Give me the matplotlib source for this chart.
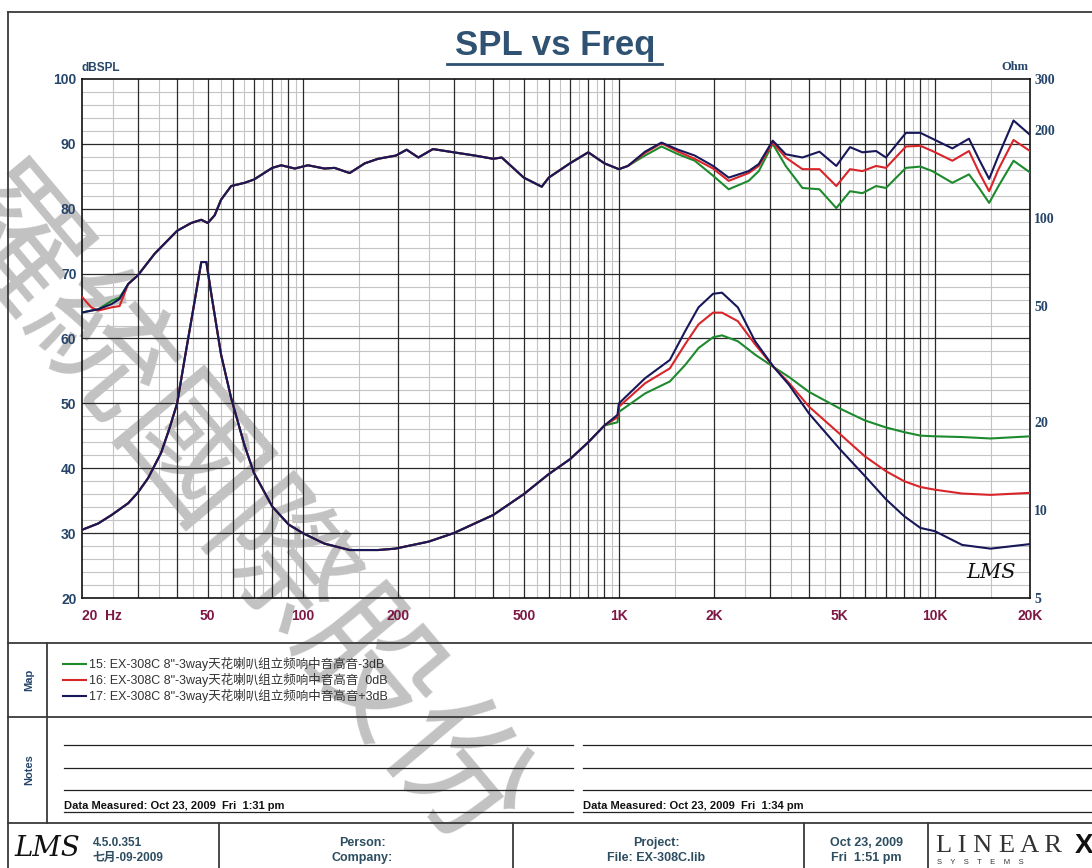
import numpy as np
import matplotlib.pyplot as plt
from matplotlib.lines import Line2D
from matplotlib.ticker import NullLocator

# SPL curves (dB)
spl_freq = [20, 21.4, 22.5, 24.8, 26.3, 28, 30, 34, 40, 44.3,
            47.7, 50, 52.6, 55.1, 59.3, 65.4, 70, 80, 85.4, 94.3,
            103.8, 117, 126, 140.6, 157, 173, 197, 213, 232, 258,
            300, 350, 400, 426, 500, 570, 600, 700, 800, 900,
            1000, 1068, 1210, 1364, 1540, 1738, 1986, 2226, 2574, 2772,
            3068, 3372, 3810, 4312, 4876, 5388, 5896, 6516, 7000, 8100,
            9000, 9820, 11360, 12820, 13800, 14850, 15900, 17740, 20000]
spl_navy = [64.0, 64.3, 64.5, 65.3, 66.1, 68.4, 69.7, 73.1, 76.6, 77.8,
            78.3, 77.8, 79.0, 81.4, 83.5, 84.0, 84.5, 86.3, 86.7, 86.2,
            86.7, 86.2, 86.3, 85.5, 87.0, 87.7, 88.2, 89.1, 87.9, 89.2,
            88.7, 88.2, 87.7, 87.9, 84.8, 83.4, 84.8, 87.0, 88.7, 87.0,
            86.1, 86.6, 88.8, 90.2, 89.1, 88.2, 86.6, 84.8, 85.8, 86.9,
            90.5, 88.4, 87.9, 88.8, 86.6, 89.5, 88.7, 88.9, 87.9, 91.7,
            91.7, 90.8, 89.3, 90.8, 87.6, 84.6, 88.2, 93.6, 91.4]
spl_red = [66.4, 64.8, 64.3, 64.8, 65.0, 68.4, 69.7, 73.1, 76.6, 77.8,
           78.3, 77.8, 79.0, 81.4, 83.5, 84.0, 84.5, 86.3, 86.7, 86.2,
           86.7, 86.2, 86.3, 85.5, 87.0, 87.7, 88.2, 89.1, 87.9, 89.2,
           88.7, 88.2, 87.7, 87.9, 84.8, 83.4, 84.8, 87.0, 88.7, 87.0,
           86.1, 86.6, 88.6, 90.1, 88.8, 87.7, 86.2, 84.3, 85.5, 86.6,
           90.2, 87.9, 86.1, 86.1, 83.5, 86.1, 85.8, 86.6, 86.3, 89.6,
           89.7, 88.9, 87.4, 88.9, 85.6, 82.7, 86.1, 90.6, 88.9]
spl_green = [64.0, 64.3, 64.5, 65.8, 66.3, 68.4, 69.7, 73.1, 76.6, 77.8,
             78.3, 77.8, 79.0, 81.4, 83.5, 84.0, 84.5, 86.3, 86.7, 86.2,
             86.7, 86.2, 86.3, 85.5, 87.0, 87.7, 88.2, 89.1, 87.9, 89.2,
             88.7, 88.2, 87.7, 87.9, 84.8, 83.4, 84.8, 87.0, 88.7, 87.0,
             86.1, 86.6, 88.2, 89.6, 88.4, 87.4, 85.1, 83.0, 84.3, 85.8,
             90.0, 86.6, 83.2, 83.0, 80.1, 82.7, 82.4, 83.5, 83.2, 86.3,
             86.5, 85.8, 84.0, 85.3, 83.2, 80.9, 83.5, 87.4, 85.6]

# impedance curves (Ohm), identical below 1K
imp_freq = [20, 22.5, 24.8, 28, 30, 32.4, 35.6, 37.8, 40, 42.3,
            44.9, 47.7, 49.5, 51.3, 55.1, 59.3, 65.4, 70, 80, 90.2,
            100, 117, 140.6, 173, 196, 250, 300, 400, 500, 600,
            700, 800, 900,
            990, 1000, 1210, 1450, 1620, 1786, 1986, 2120, 2380, 2698,
            3092, 3452, 4000, 5000, 6000, 7000, 8000, 9000, 10000, 12200,
            15000, 20000]
imp_low = [8.56, 9.00, 9.62, 10.56, 11.46, 12.89, 15.73, 19.01, 23.2, 33.2,
           48.2, 70.8, 70.8, 55.1, 34.1, 24.2, 16.64, 13.42, 10.29, 8.92,
           8.34, 7.68, 7.30, 7.30, 7.38, 7.80, 8.34, 9.62, 11.34, 13.29,
           14.94, 17.08, 19.5]
imp_navy_hi = [21.2, 23.2, 28.3, 32.7, 41.0, 49.5, 55.1, 55.6, 49.5, 37.9,
               30.9, 26.9, 21.4, 16.2, 13.1, 10.9, 9.53, 8.69, 8.47, 7.60,
               7.38, 7.65]
imp_red_hi = [20.8, 22.6, 27.2, 30.6, 37.0, 43.3, 47.5, 47.5, 44.4, 37.0,
              30.9, 27.3, 22.6, 18.25, 15.3, 13.6, 12.56, 12.0, 11.75, 11.4,
              11.28, 11.46]
imp_green_hi = [20.0, 21.7, 25.1, 27.6, 31.4, 35.9, 39.1, 39.7, 37.9, 34.1,
                30.9, 28.6, 25.4, 22.3, 20.3, 19.2, 18.5, 18.0, 17.9, 17.8,
                17.6, 17.9]

labels = ['15: EX-308C 8"-3way天花喇叭组立频响中音高音-3dB',
          '16: EX-308C 8"-3way天花喇叭组立频响中音高音  0dB',
          '17: EX-308C 8"-3way天花喇叭组立频响中音高音+3dB']
colors = ['#1e8a2e', '#d8252a', '#17175a']

x_ticks = [20, 50, 100, 200, 500, 1000, 2000, 5000, 10000, 20000]
x_ticklabels = ['20  Hz', '50', '100', '200', '500', '1K', '2K', '5K', '10K', '20K']
db_ticks = [20, 30, 40, 50, 60, 70, 80, 90, 100]
ohm_ticks = [5, 10, 20, 50, 100, 200, 300]

W, H = 1092, 868
SANS = ['Liberation Sans', 'DejaVu Sans']
CJK = ['Liberation Sans', 'Noto Sans CJK SC', 'DejaVu Sans']
BLUE = '#26456a'


def P(x, y):
    return x / W, 1 - y / H


fig = plt.figure(figsize=(W / 100, H / 100), dpi=100)
fig.patch.set_facecolor('white')

# plot area
x0, x1, y0, y1 = 82, 1030, 79, 598
ax = fig.add_axes([x0 / W, 1 - y1 / H, (x1 - x0) / W, (y1 - y0) / H])
ax.patch.set_alpha(0)
ax.set_xscale('log')
ax.set_xlim(20, 20000)
ax.set_ylim(20, 100)

for dec in [10, 100, 1000, 10000]:
    for m in range(1, 10):
        f = m * dec
        if 20 < f < 20000:
            ax.axvline(f, color='#2a2a2a', lw=0.9, zorder=1)
        fm = (m + 0.5) * dec
        if 20 < fm < 20000:
            ax.axvline(fm, color='#c4c4c4', lw=0.8, zorder=0)
for v in range(22, 100, 2):
    if v % 10 == 0:
        ax.axhline(v, color='#2a2a2a', lw=0.9, zorder=1)
    else:
        ax.axhline(v, color='#c4c4c4', lw=0.8, zorder=0)

handles = []
for vals, c in zip([spl_green, spl_red, spl_navy], colors):
    h, = ax.plot(spl_freq, vals, color=c, lw=1.5, zorder=3)
    handles.append(h)

ax.set_xticks(x_ticks, x_ticklabels)
ax.xaxis.set_minor_locator(NullLocator())
ax.set_yticks(db_ticks)
ax.tick_params(axis='both', length=0)
ax.tick_params(axis='x', pad=8, labelcolor='#7d1744')
ax.tick_params(axis='y', pad=4, labelcolor=BLUE)
for t in ax.get_xticklabels():
    t.set_fontfamily(SANS)
    t.set_fontweight('bold')
    t.set_fontsize(10)
ax.get_xticklabels()[0].set_horizontalalignment('left')
for t in ax.get_yticklabels():
    t.set_fontfamily(SANS)
    t.set_fontweight('bold')
    t.set_fontsize(10)
for s in ax.spines.values():
    s.set_color('#111111')
    s.set_linewidth(1.2)

ax2 = ax.twinx()
ax2.patch.set_alpha(0)
ax2.set_yscale('log')
ax2.set_ylim(5, 300)
for hi, c in zip([imp_green_hi, imp_red_hi, imp_navy_hi], colors):
    ax2.plot(imp_freq, imp_low + hi, color=c, lw=1.5, zorder=3)
ax2.set_yticks(ohm_ticks, [str(v) for v in ohm_ticks])
ax2.yaxis.set_minor_locator(NullLocator())
ax2.tick_params(axis='y', length=0, pad=3, labelcolor=BLUE)
for t in ax2.get_yticklabels():
    t.set_fontfamily(['Liberation Serif', 'DejaVu Serif'])
    t.set_fontweight('bold')
    t.set_fontsize(10)
for s in ax2.spines.values():
    s.set_visible(False)

ax2.text(0.985, 0.03, 'LMS', transform=ax2.transAxes, ha='right', va='bottom',
         fontsize=15, style='italic', family=['DejaVu Serif'], color='#111111')

# titles and axis names
fig.text(*P(555, 45), 'SPL vs Freq', ha='center', va='center', fontsize=25,
         fontweight='bold', family=SANS, color='#2f5272')
fig.add_artist(Line2D([447 / W, 662 / W], [1 - 64 / H, 1 - 64 / H], color='#2f5272', lw=2))
fig.text(*P(82, 68), 'dBSPL', ha='left', va='center', fontsize=8.5,
         fontweight='bold', family=SANS, color=BLUE)
fig.text(*P(1028, 67), 'Ohm', ha='right', va='center', fontsize=9,
         fontweight='bold', family=['Liberation Serif', 'DejaVu Serif'], color=BLUE)


# page frame
def hline(y, xa, xb, lw=1.3, c='#3a3a3a'):
    fig.add_artist(Line2D([xa / W, xb / W], [1 - y / H, 1 - y / H], color=c, lw=lw))


def vline(x, ya, yb, lw=1.3, c='#3a3a3a'):
    fig.add_artist(Line2D([x / W, x / W], [1 - ya / H, 1 - yb / H], color=c, lw=lw))


hline(12, 8, W)
vline(8, 12, H)
hline(643, 8, W)
hline(717, 8, W)
hline(823, 8, W)
vline(47, 643, 823)
for xd in [219, 513, 804, 928]:
    vline(xd, 823, H)

# map
fig.text(*P(29, 680), 'Map', rotation=90, ha='center', va='center', fontsize=8,
         fontweight='bold', family=SANS, color=BLUE)
fig.legend(handles, labels, loc='upper left', bbox_to_anchor=P(58, 652),
           frameon=False, handlelength=1.8, handletextpad=0.3, labelspacing=0.15,
           borderaxespad=0, prop={'family': CJK, 'size': 9}, labelcolor='#333333')

# notes
fig.text(*P(29, 770), 'Notes', rotation=90, ha='center', va='center', fontsize=8,
         fontweight='bold', family=SANS, color=BLUE)
for yl in [745, 768, 790, 812]:
    hline(yl, 64, 573, lw=0.9, c='#222222')
    hline(yl, 583, W, lw=0.9, c='#222222')
fig.text(*P(64, 806), 'Data Measured: Oct 23, 2009  Fri  1:31 pm', ha='left', va='center',
         fontsize=8, fontweight='bold', family=SANS, color='#111111')
fig.text(*P(583, 806), 'Data Measured: Oct 23, 2009  Fri  1:34 pm', ha='left', va='center',
         fontsize=8, fontweight='bold', family=SANS, color='#111111')

# footer
FOOT = '#2d4d60'
fig.text(*P(14, 848), 'LMS', ha='left', va='center', fontsize=20, style='italic',
         family=['DejaVu Serif'], color='#111111')
fig.text(*P(93, 843), '4.5.0.351', ha='left', va='center', fontsize=8.5,
         fontweight='bold', family=CJK, color=FOOT)
fig.text(*P(93, 858), '七月-09-2009', ha='left', va='center', fontsize=8.5,
         fontweight='bold', family=CJK, color=FOOT)
fig.text(*P(362, 843), 'Person:', ha='center', va='center', fontsize=9,
         fontweight='bold', family=SANS, color=FOOT)
fig.text(*P(362, 858), 'Company:', ha='center', va='center', fontsize=9,
         fontweight='bold', family=SANS, color=FOOT)
fig.text(*P(656, 843), 'Project:', ha='center', va='center', fontsize=9,
         fontweight='bold', family=SANS, color=FOOT)
fig.text(*P(656, 858), 'File: EX-308C.lib', ha='center', va='center', fontsize=9,
         fontweight='bold', family=SANS, color=FOOT)
fig.text(*P(866, 843), 'Oct 23, 2009', ha='center', va='center', fontsize=9,
         fontweight='bold', family=SANS, color=FOOT)
fig.text(*P(866, 858), 'Fri  1:51 pm', ha='center', va='center', fontsize=9,
         fontweight='bold', family=SANS, color=FOOT)
fig.text(*P(936, 846), 'L I N E A R', ha='left', va='center', fontsize=19,
         family=['Liberation Serif', 'DejaVu Serif'], color='#333333')
fig.text(*P(1075, 846), 'X', ha='left', va='center', fontsize=20, fontweight='bold',
         family=SANS, color='#111111')
fig.text(*P(937, 863), 'S    Y    S    T    E    M    S', ha='left', va='center',
         fontsize=5.5, family=SANS, color='#333333')

# watermark, drawn beneath the (transparent) plot axes
fig.text(*P(228, 515), '羅統國際股份', ha='center', va='center', rotation=-50,
         rotation_mode='anchor', fontsize=100, family=['Noto Sans CJK SC'],
         color='#c2c2c2', zorder=-1)

fig.savefig('out.png', dpi=100, facecolor='white')
